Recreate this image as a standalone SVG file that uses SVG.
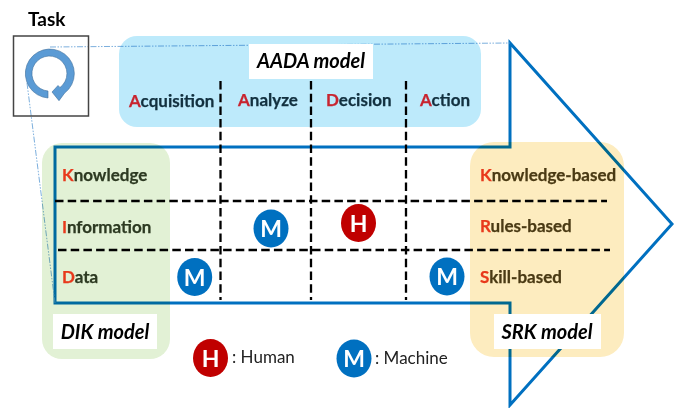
<svg xmlns="http://www.w3.org/2000/svg" width="677" height="408" viewBox="0 0 677 408">
<style>
text{font-family:Lato,"Open Sans","Liberation Sans",sans-serif}
.lab{font-size:17px;font-weight:700;stroke-width:.25}
.b{fill:#12303f;stroke:#12303f}
.g{fill:#2d3a22;stroke:#2d3a22}
.y{fill:#4a3a14;stroke:#4a3a14}
.r{fill:#c8242f;stroke:#c8242f}
.o{fill:#e8391c;stroke:#e8391c}
.mod{font-size:20px;font-weight:700;font-style:italic;fill:#000}
.dash{fill:none;stroke:#000;stroke-width:2.3;stroke-dasharray:8.500 4.200}
.dot{fill:none;stroke:#5b9bd5;stroke-width:1;stroke-opacity:.8;stroke-dasharray:6 1.500 1.500 1.500 1.500 1.500}
.ci{font-size:23px;font-weight:700;fill:#fff;text-anchor:middle}
.leg{font-size:17px;fill:#222}
</style>
<rect width="677" height="408" fill="#fff"/>
<g id="arrow"><path d="M55 147H510V43L672 224L510 405V303H55Z" fill="none" stroke="#0070c0" stroke-width="3"/></g>
<g id="connectors">
<path class="dot" d="M50 47L510 43"/>
<path class="dot" d="M27 83L55 303"/>
<path class="dash" d="M55 201H607"/>
<path class="dash" d="M58 250H610"/>
<path class="dash" d="M220.500 81V300"/>
<path class="dash" d="M311 81V300"/>
<path class="dash" d="M406 81V300"/>
</g>
<g id="aada"><rect x="119" y="36" width="362" height="91" rx="18" fill="#bdeafb" style="mix-blend-mode:multiply"/>
<rect x="249" y="44" width="124" height="35" fill="#fff"/>
<text class="mod" x="311" y="68" text-anchor="middle">AADA model</text>
<text class="lab b" x="129" y="107"><tspan class="r">A</tspan>cquisition</text>
<text class="lab b" x="238" y="106"><tspan class="r">A</tspan>nalyze</text>
<text class="lab b" x="326" y="106"><tspan class="r">D</tspan>ecision</text>
<text class="lab b" x="420" y="106"><tspan class="r">A</tspan>ction</text>
</g>
<g id="dik"><rect x="42" y="143" width="128" height="216" rx="20" fill="#e2f1d5" style="mix-blend-mode:multiply"/>
<rect x="53" y="314" width="104" height="35" fill="#fff"/>
<text class="mod" x="105" y="339" text-anchor="middle">DIK model</text>
<text class="lab g" x="62" y="181"><tspan class="o">K</tspan>nowledge</text>
<text class="lab g" x="62" y="233"><tspan class="o">I</tspan>nformation</text>
<text class="lab g" x="62" y="283"><tspan class="o">D</tspan>ata</text>
</g>
<g id="srk"><rect x="470" y="142" width="154" height="215" rx="24" fill="#fdecbf" style="mix-blend-mode:multiply"/>
<rect x="494" y="314" width="107" height="35" fill="#fff"/>
<text class="mod" x="547" y="339" text-anchor="middle">SRK model</text>
<text class="lab y" x="480" y="181"><tspan class="o">K</tspan>nowledge-based</text>
<text class="lab y" x="480" y="232"><tspan class="o">R</tspan>ules-based</text>
<text class="lab y" x="480" y="283"><tspan class="o">S</tspan>kill-based</text>
</g>
<g id="task">
<text x="28" y="26" font-size="19" font-weight="700" fill="#000">Task</text>
<rect x="13.500" y="36" width="75" height="80" fill="none" stroke="#444" stroke-width="1.500"/>
<path d="M48 98A24.500 24.500 0 1 1 64.500 93.200L59 100.700L52 92L58 85.500L60 87.500A17.500 17.500 0 1 0 48 91Z" fill="#5b9bd5" stroke="#41719c" stroke-width=".6"/>
</g>
<g id="m1"><ellipse cx="194.700" cy="277" rx="17.500" ry="19" fill="#0070c0"/><text class="ci" x="194.700" y="285.500">M</text></g>
<g id="m2"><ellipse cx="271" cy="228.500" rx="17.500" ry="19" fill="#0070c0"/><text class="ci" x="271" y="237">M</text></g>
<g id="h1"><ellipse cx="358.500" cy="223" rx="17.500" ry="19" fill="#c00000"/><text class="ci" x="358.500" y="231.500">H</text></g>
<g id="m3"><ellipse cx="447" cy="276.500" rx="17.500" ry="19" fill="#0070c0"/><text class="ci" x="447" y="285">M</text></g>
<g id="legend">
<ellipse cx="210.500" cy="358" rx="17.500" ry="19" fill="#c00000"/><text class="ci" x="210.500" y="366.500">H</text>
<text class="leg" x="232" y="363">: Human</text>
<ellipse cx="354" cy="358.500" rx="17.500" ry="19" fill="#0070c0"/><text class="ci" x="354" y="367">M</text>
<text class="leg" x="375" y="364">: Machine</text>
</g>
</svg>
